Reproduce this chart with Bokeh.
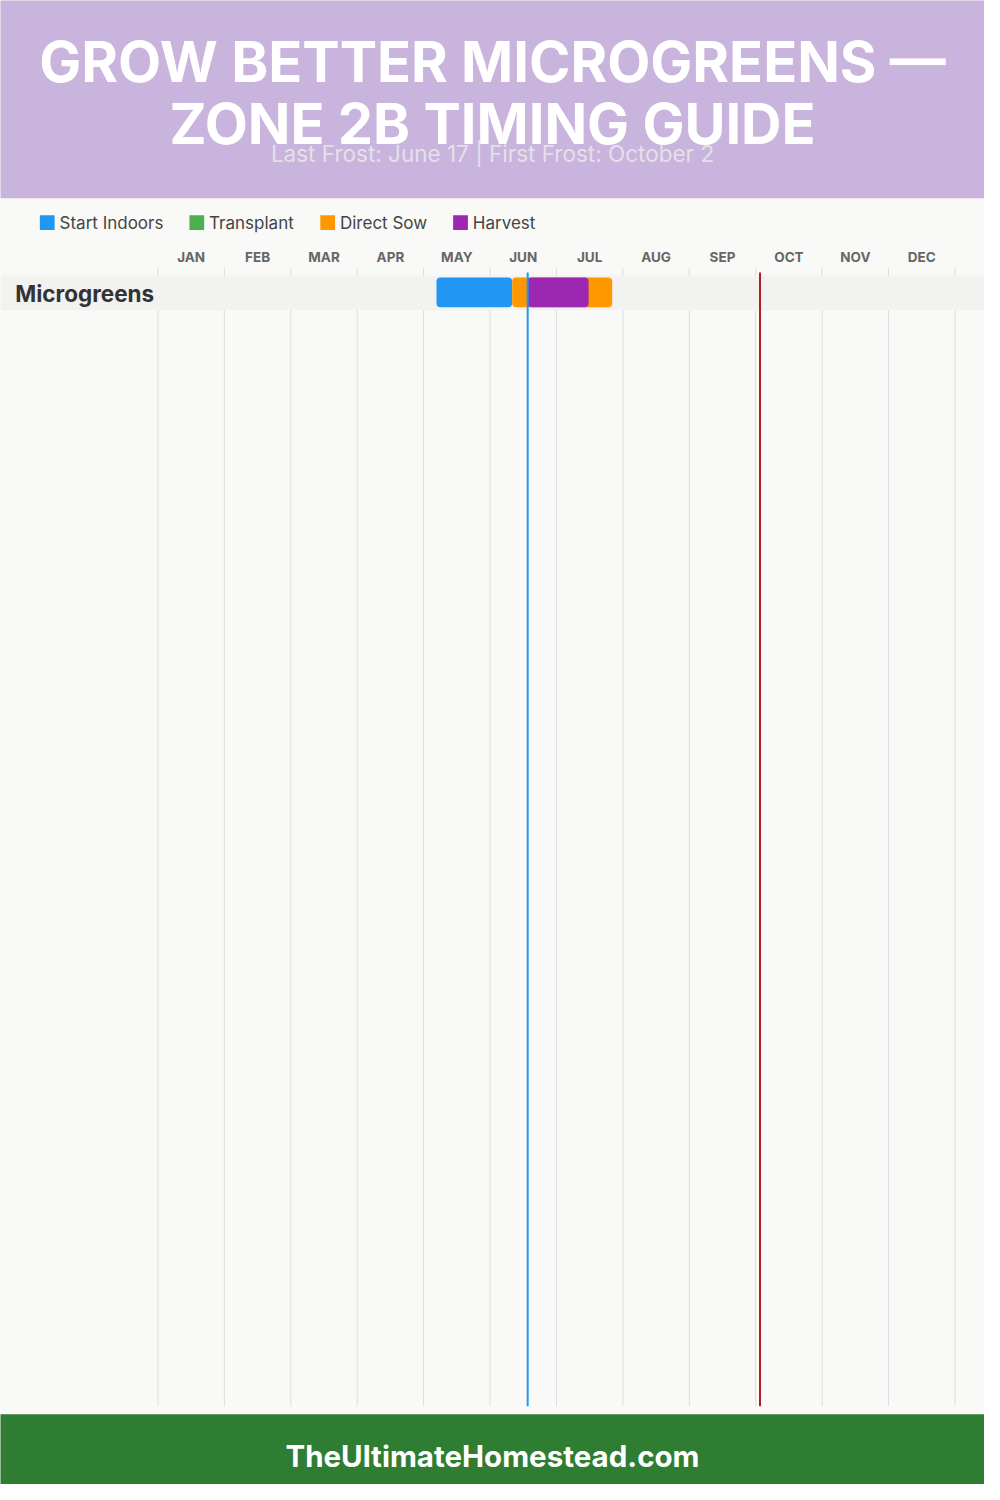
from bokeh.plotting import figure
from bokeh.models import Range1d
from bokeh.core.properties import value
from bokeh.embed import file_html
from bokeh.resources import INLINE

# ---------------- data ----------------
title_lines = ["GROW BETTER MICROGREENS \u2014", "ZONE 2B TIMING GUIDE"]
subtitle = "Last Frost: June 17 | First Frost: October 2"
footer = "TheUltimateHomestead.com"

months = ["JAN", "FEB", "MAR", "APR", "MAY", "JUN", "JUL", "AUG", "SEP", "OCT", "NOV", "DEC"]
days_in_month = [31, 28, 31, 30, 31, 30, 31, 31, 30, 31, 30, 31]

stage_names = ["Start Indoors", "Transplant", "Direct Sow", "Harvest"]
stage_colors = ["#2196F3", "#4CAF50", "#FF9800", "#9C27B0"]

crops = ["Microgreens"]
# (month number, day) start / end for each stage of each crop
start_indoors = [((5, 6), (6, 10))]
transplant = [None]
direct_sow = [((6, 10), (7, 26))]
harvest = [((6, 17), (7, 15))]

last_frost = (6, 17)
first_frost = (10, 2)


def mpos(md):
    m, d = md
    return (m - 1) + d / days_in_month[m - 1]


# ---------------- layout helpers ----------------
W, H = 984, 1484
X0, MW = 160.0, 67.5          # reference px of Jan 1, px per month


def px(x):
    return (x - X0) / MW


BG = "#F9F9F7"
p = figure(width=W, height=H, output_backend="svg", toolbar_location=None,
           x_range=Range1d(px(0), px(1000)), y_range=Range1d(1500, 0),
           min_border=0, background_fill_color=BG, border_fill_color=BG)
p.xaxis.visible = False
p.yaxis.visible = False
p.grid.visible = False
p.outline_line_color = None

L, R = px(-20), px(1020)
FONT = value("Inter")

# header band
p.quad(left=[L], right=[R], top=[-10], bottom=[200], fill_color="#C8B4DC", line_color=None)
p.text(x=[px(500)] * 2, y=[62, 124.5], text=title_lines, text_font=FONT, text_font_style="bold",
       text_font_size="56px", text_color="white", text_align="center", text_baseline="middle")
p.text(x=[px(500)], y=[154.5], text=[subtitle], text_font=FONT, text_font_size="22.5px",
       text_color="#E4E0E8", text_align="center", text_baseline="middle")

# legend
leg_x = [40, 192, 325, 460]
p.quad(left=[px(x) for x in leg_x], right=[px(x + 15) for x in leg_x],
       top=[217] * 4, bottom=[232] * 4, fill_color=stage_colors, line_color=None)
p.text(x=[px(x + 20) for x in leg_x], y=[225] * 4, text=stage_names, text_font=FONT,
       text_font_size="17px", text_color="#444444", text_align="left", text_baseline="middle")

# month labels
p.text(x=[i + 0.5 for i in range(len(months))], y=[259.5] * len(months), text=months,
       text_font=FONT, text_font_style="bold", text_font_size="13.5px", text_color="#666666",
       text_align="center", text_baseline="middle")

# month grid lines
p.segment(x0=list(range(13)), x1=list(range(13)), y0=[270] * 13, y1=[1421] * 13,
          line_color="#DDDDDD", line_width=1)

# crop rows
row_top = 278
row_h = 35
for i, crop in enumerate(crops):
    y0 = row_top + i * row_h
    p.quad(left=[L], right=[R], top=[y0], bottom=[y0 + row_h], fill_color="#F2F2F0", line_color=None)
    p.text(x=[px(15)], y=[y0 + 18.5], text=[crop], text_font=FONT, text_font_style="bold",
           text_font_size="22.5px", text_color="#333333", text_align="left", text_baseline="middle")
    yc = y0 + 17
    for stage, color in zip([start_indoors, transplant, direct_sow, harvest], stage_colors):
        rng = stage[i]
        if rng is None:
            continue
        a, b = mpos(rng[0]), mpos(rng[1])
        p.hbar(y=[yc], left=[a], right=[b], height=30, fill_color=color, line_color=None,
               border_radius=4)

# frost lines
p.segment(x0=[mpos(last_frost)], x1=[mpos(last_frost)], y0=[275], y1=[1421],
          line_color="#2196F3", line_width=2)
p.segment(x0=[mpos(first_frost)], x1=[mpos(first_frost)], y0=[275], y1=[1421],
          line_color="#B71C1C", line_width=2)

# footer
p.quad(left=[L], right=[R], top=[1429], bottom=[1520], fill_color="#2E7D32", line_color=None)
p.text(x=[px(500)], y=[1471], text=[footer], text_font=FONT, text_font_style="bold",
       text_font_size="29.5px", text_color="white", text_align="center", text_baseline="middle")

open("out.html", "w").write(file_html(p, INLINE))
